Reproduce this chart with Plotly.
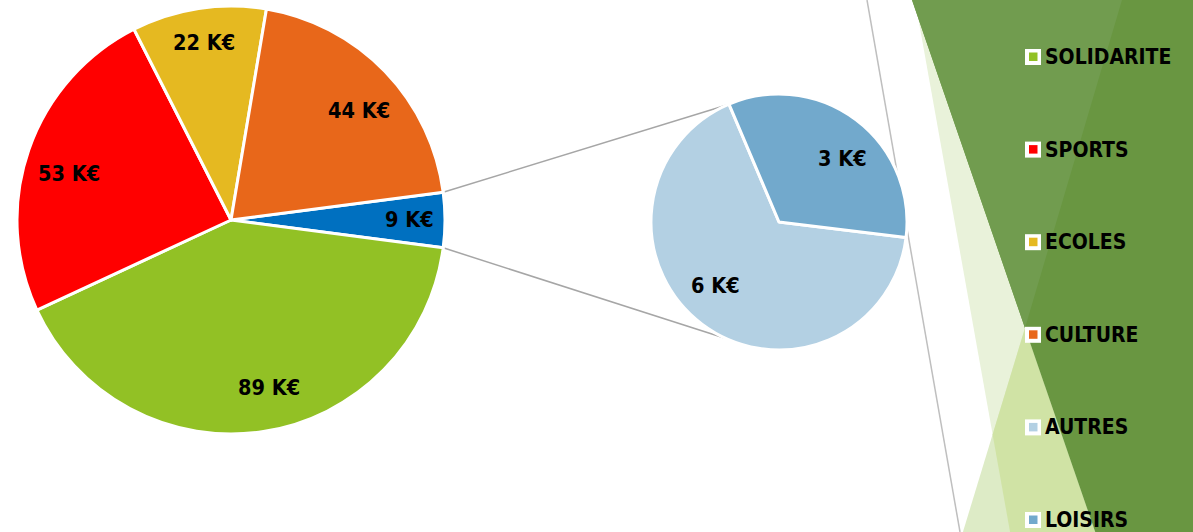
import math
import plotly.graph_objects as go

# ---------------- data ----------------
# main pie, listed clockwise starting with the "split" slice (AUTRES + LOISIRS)
main_labels = ["AUTRES + LOISIRS", "SOLIDARITE", "SPORTS", "ECOLES", "CULTURE"]
main_values = [9, 89, 53, 22, 44]
main_text = ["9 K€", "89 K€", "53 K€", "22 K€", "44 K€"]
main_colors = ["#0070C0", "#92C125", "#FF0000", "#E5B921", "#E8671A"]

# secondary pie (detail of the split slice), clockwise
sub_labels = ["AUTRES", "LOISIRS"]
sub_values = [6, 3]
sub_text = ["6 K€", "3 K€"]
sub_colors = ["#B3D0E3", "#72A9CC"]

legend_labels = ["SOLIDARITE", "SPORTS", "ECOLES", "CULTURE", "AUTRES", "LOISIRS"]
legend_colors = ["#92C125", "#FF0000", "#E5B921", "#E8671A", "#B3D0E3", "#72A9CC"]

# ---------------- layout / style constants ----------------
W, H = 1193, 532
FONT = "DejaVu Sans Condensed, DejaVu Sans, sans-serif"
MAIN_C, MAIN_R = (231, 220), 214
SUB_C, SUB_R = (779, 222), 128
MAIN_ROT = 90 - 180.0 * main_values[0] / sum(main_values)
SUB_ROT = 97
# label placement (radius fraction, angular nudge in degrees) per slice
MAIN_LABEL_K = [0.835, 0.80, 0.79, 0.84, 0.785]
MAIN_LABEL_NUDGE = [0, -4, -3, 0, 3.5]
SUB_LABEL_K = [0.70, 0.70]
SUB_LABEL_NUDGE = [8, 8]


def px(x, y):
    return x / W, 1 - y / H


def domain(c, r):
    return dict(x=[(c[0] - r) / W, (c[0] + r) / W],
                y=[1 - (c[1] + r) / H, 1 - (c[1] - r) / H])


def polar(c, r, cw_deg):
    a = math.radians(cw_deg)
    return c[0] + r * math.sin(a), c[1] - r * math.cos(a)


fig = go.Figure()
fig.add_trace(go.Pie(
    labels=main_labels, values=main_values, sort=False, direction="clockwise",
    rotation=MAIN_ROT, domain=domain(MAIN_C, MAIN_R), textinfo="none",
    marker=dict(colors=main_colors, line=dict(color="white", width=3)),
    showlegend=False, hoverinfo="label+value"))
fig.add_trace(go.Pie(
    labels=sub_labels, values=sub_values, sort=False, direction="clockwise",
    rotation=SUB_ROT, domain=domain(SUB_C, SUB_R), textinfo="none",
    marker=dict(colors=sub_colors, line=dict(color="white", width=3)),
    showlegend=False, hoverinfo="label+value"))

annotations = []


def slice_labels(values, texts, c, r, rot, ks, nudges):
    tot = float(sum(values))
    acc = 0.0
    for v, t, k, n in zip(values, texts, ks, nudges):
        mid = rot + 360.0 * (acc + v / 2.0) / tot + n
        acc += v
        xp, yp = px(*polar(c, k * r, mid))
        annotations.append(dict(x=xp, y=yp, xref="paper", yref="paper", text=f"<b>{t}</b>",
                                showarrow=False, xanchor="center", yanchor="middle",
                                font=dict(family=FONT, size=21.5, color="black")))


slice_labels(main_values, main_text, MAIN_C, MAIN_R, MAIN_ROT, MAIN_LABEL_K, MAIN_LABEL_NUDGE)
slice_labels(sub_values, sub_text, SUB_C, SUB_R, SUB_ROT, SUB_LABEL_K, SUB_LABEL_NUDGE)

shapes = []


def poly(points, color):
    pts = [px(x, y) for x, y in points]
    path = "M " + " L ".join(f"{a:.5f},{b:.5f}" for a, b in pts) + " Z"
    shapes.append(dict(type="path", path=path, xref="paper", yref="paper",
                       fillcolor=color, line=dict(width=0), layer="below"))


# background (theme decoration)
poly([(915, 0), (1200, 0), (1200, 540), (1011.5, 540)], "#E9F2DA")
poly([(960.5, 540), (1025, 328), (1098, 540)], "#DDEBC6")
poly([(992.6, 434.6), (1025, 328), (1098, 540), (1011.5, 540)], "#D0E3A5")
poly([(912, 0), (1200, 0), (1200, 540), (1098, 540)], "#699641")
poly([(912, 0), (1122, 0), (1025, 328)], "#719C4F")

x0, y0 = px(867, 0)
x1, y1 = px(960, 532)
shapes.append(dict(type="line", x0=x0, y0=y0, x1=x1, y1=y1, xref="paper", yref="paper",
                   line=dict(color="#BFBFBF", width=1.5), layer="below"))

# connector lines between the split slice and the secondary pie
split_start = MAIN_ROT
split_end = MAIN_ROT + 360.0 * main_values[0] / sum(main_values)
for a_main, a_sub in [(split_start, 336), (split_end, 204.5)]:
    ax, ay = px(*polar(MAIN_C, MAIN_R, a_main))
    bx, by = px(*polar(SUB_C, SUB_R, a_sub))
    shapes.append(dict(type="line", x0=ax, y0=ay, x1=bx, y1=by, xref="paper", yref="paper",
                       line=dict(color="#A6A6A6", width=1.5), layer="below"))

# custom legend
LEG_Y0, LEG_DY = 57, 92.6
for i, (lab, col) in enumerate(zip(legend_labels, legend_colors)):
    yc = LEG_Y0 + i * LEG_DY
    ax0, ay0 = px(1025, yc - 8)
    ax1, ay1 = px(1041, yc + 8)
    shapes.append(dict(type="rect", x0=ax0, y0=ay0, x1=ax1, y1=ay1, xref="paper", yref="paper",
                       fillcolor="white", line=dict(width=0), layer="above"))
    bx0, by0 = px(1029, yc - 4.5)
    bx1, by1 = px(1037.5, yc + 4)
    shapes.append(dict(type="rect", x0=bx0, y0=by0, x1=bx1, y1=by1, xref="paper", yref="paper",
                       fillcolor=col, line=dict(width=0), layer="above"))
    tx, ty = px(1043, yc)
    annotations.append(dict(x=tx, y=ty, xref="paper", yref="paper", text=f"<b>{lab}</b>",
                            showarrow=False, xanchor="left", yanchor="middle",
                            font=dict(family=FONT, size=21, color="black")))

fig.update_layout(width=W, height=H, margin=dict(l=0, r=0, t=0, b=0),
                  paper_bgcolor="white", plot_bgcolor="white",
                  shapes=shapes, annotations=annotations, showlegend=False)

fig.write_html("out.html", config={"displayModeBar": False},
               post_script="document.body.style.margin='0';document.body.style.overflow='hidden';")
